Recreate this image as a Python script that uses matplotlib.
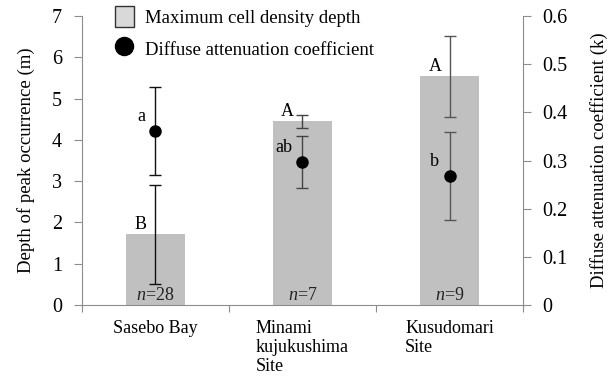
import numpy as np
import matplotlib
matplotlib.use("Agg")
import matplotlib.pyplot as plt
from matplotlib.lines import Line2D
from matplotlib.patches import Patch

plt.rcParams["font.family"] = ["Liberation Serif", "DejaVu Serif"]
plt.rcParams["mathtext.fontset"] = "custom"
plt.rcParams["mathtext.rm"] = "Liberation Serif"
plt.rcParams["mathtext.it"] = "Liberation Serif:italic"

SITES = ["Sasebo Bay", "Minami\nkujukushima\nSite", "Kusudomari\nSite"]
DEPTH = [1.71, 4.45, 5.54]
DEPTH_ERR = [1.20, 0.16, 0.98]
K_VAL = [0.361, 0.297, 0.268]
K_ERR = [0.091, 0.054, 0.091]
DEPTH_LETTERS = ["B", "A", "A"]
K_LETTERS = ["a", "ab", "b"]
N_LABELS = ["28", "7", "9"]

COR_BARRA = "#c0c0c0"
COR_EIXO = "#8c8c8c"
ERR_CORES = ["#111111", "#444444", "#555555"]

fig = plt.figure(figsize=(6.14, 3.76), dpi=100)
ax = fig.add_axes([0.133, 0.189, 0.719, 0.768])
ax2 = ax.twinx()

x = np.arange(len(SITES))
ax.bar(x, DEPTH, width=0.4, color=COR_BARRA, zorder=1)
for i in range(len(SITES)):
    ax.errorbar(x[i], DEPTH[i], yerr=DEPTH_ERR[i], fmt="none",
                ecolor=ERR_CORES[i], elinewidth=1.0, capsize=4.5, capthick=1.0, zorder=3)
    ax.text(x[i] - 0.1, DEPTH[i] + 0.03, DEPTH_LETTERS[i], ha="center", va="bottom", fontsize=13)
    ax.text(x[i], 0.03, r"$\it{n}$=" + N_LABELS[i], ha="center", va="bottom", fontsize=13,
            color="#222222")
    ax2.errorbar(x[i], K_VAL[i], yerr=K_ERR[i], fmt="o", color="black", markersize=8,
                 ecolor=ERR_CORES[i], elinewidth=1.0, capsize=4.5, capthick=1.0, zorder=4)
    ax2.text(x[i] - 0.07, K_VAL[i] + 0.012, K_LETTERS[i], ha="right", va="bottom", fontsize=13)

ax.set_xlim(-0.5, 2.5)
ax.set_ylim(0, 7)
ax2.set_ylim(0, 0.6)
ax.set_yticks(range(0, 8))
ax2.set_yticks([0, 0.1, 0.2, 0.3, 0.4, 0.5, 0.6])
ax2.set_yticklabels(["0", "0.1", "0.2", "0.3", "0.4", "0.5", "0.6"])

ax.set_xticks([-0.5, 0.5, 1.5, 2.5])
ax.set_xticklabels([])
ax.set_xticks(x, minor=True)
ax.set_xticklabels(SITES, minor=True, multialignment="left", fontsize=13, linespacing=1.15)
ax.tick_params(axis="x", which="minor", length=0, pad=11)
ax.tick_params(axis="x", which="major", length=5, color=COR_EIXO)
ax.tick_params(axis="y", length=6, color=COR_EIXO, labelsize=14.5, pad=8)
ax2.tick_params(axis="y", length=6, color=COR_EIXO, labelsize=14.5, pad=8)

for a in (ax, ax2):
    a.spines["top"].set_visible(False)
    for s in ("left", "right", "bottom"):
        a.spines[s].set_color(COR_EIXO)
ax.spines["right"].set_visible(False)
ax2.spines["left"].set_visible(False)
ax2.spines["bottom"].set_visible(False)

ax.set_ylabel("Depth of peak occurrence (m)", fontsize=13.5, labelpad=12)
ax2.set_ylabel("Diffuse attenuation coefficient (k)", fontsize=13.5, labelpad=16)

handles = [
    Patch(facecolor="#d9d9d9", edgecolor="#333333", linewidth=1.0),
    Line2D([], [], marker="o", color="black", linestyle="none", markersize=13),
]
fig.legend(handles, ["Maximum cell density depth", "Diffuse attenuation coefficient"],
           loc="upper left", bbox_to_anchor=(0.16, 1.03), frameon=False, fontsize=13.5,
           handlelength=1.0, handleheight=1.4, handletextpad=0.6, labelspacing=0.55)

fig.savefig("out.png", dpi=100)
